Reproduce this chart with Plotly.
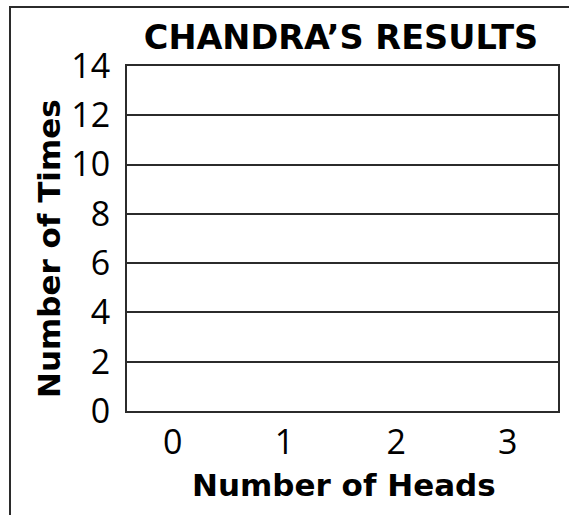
import plotly.graph_objects as go

heads = [0, 1, 2, 3]
times = [None, None, None, None]
y_ticks = [0, 2, 4, 6, 8, 10, 12, 14]
title_text = "CHANDRA\u2019S RESULTS"
x_title = "Number of Heads"
y_title = "Number of Times"

W, H = 569, 515
L, R, T, B = 127, 11, 66, 104
pw, ph = W - L - R, H - T - B

TICKFONT = "Open Sans"
BOLDFONT = "DejaVu Sans"
INK = "#2b2b2b"

fig = go.Figure(go.Bar(x=heads, y=times, marker_color="#888", showlegend=False))

def px_to_paper_x(px):
    return (px - L) / pw

def px_to_paper_y(py):
    return (H - B - py) / ph

fig.update_layout(
    width=W, height=H,
    margin=dict(l=L, r=R, t=T, b=B, pad=0, autoexpand=False),
    paper_bgcolor="white", plot_bgcolor="white",
    font=dict(family=TICKFONT, color="black"),
    title=dict(text="<b>" + title_text + "</b>", font=dict(size=33.5, family=BOLDFONT, color="black"),
               x=341 / W, xanchor="center", y=1 - 37 / H, yanchor="middle"),
    shapes=[dict(type="rect", xref="paper", yref="paper",
                 x0=px_to_paper_x(10), x1=px_to_paper_x(620),
                 y0=px_to_paper_y(560), y1=px_to_paper_y(7),
                 line=dict(color=INK, width=2), fillcolor="rgba(0,0,0,0)", layer="above")],
    annotations=[
        dict(text="<b>" + x_title + "</b>", xref="paper", yref="paper",
             x=px_to_paper_x(344), y=px_to_paper_y(485), xanchor="center", yanchor="middle",
             showarrow=False, font=dict(size=31, family=BOLDFONT, color="black")),
        dict(text="<b>" + y_title + "</b>", xref="paper", yref="paper", textangle=-90,
             x=px_to_paper_x(49), y=px_to_paper_y(249), xanchor="center", yanchor="middle",
             showarrow=False, font=dict(size=31, family=BOLDFONT, color="black")),
    ],
)

fig.update_xaxes(
    range=[-0.41, 3.45], tickvals=heads, ticktext=[str(h) for h in heads],
    showgrid=False, zeroline=False, showline=True, mirror=True, automargin=False,
    linecolor=INK, linewidth=2, ticks="", tickfont=dict(size=34, family=TICKFONT, color="black"),
    ticklabelstandoff=0,
)
fig.update_yaxes(
    range=[0, 14], tickvals=y_ticks, ticktext=[str(v) for v in y_ticks],
    showgrid=True, gridcolor=INK, gridwidth=1.5, zeroline=False, showline=True, mirror=True, automargin=False,
    linecolor=INK, linewidth=2, ticks="", tickfont=dict(size=34, family=TICKFONT, color="black"),
    ticklabelstandoff=8,
)

fig.write_html("out.html", config={"displayModeBar": False},
               post_script="document.body.style.margin='0';document.body.style.overflow='hidden';")
